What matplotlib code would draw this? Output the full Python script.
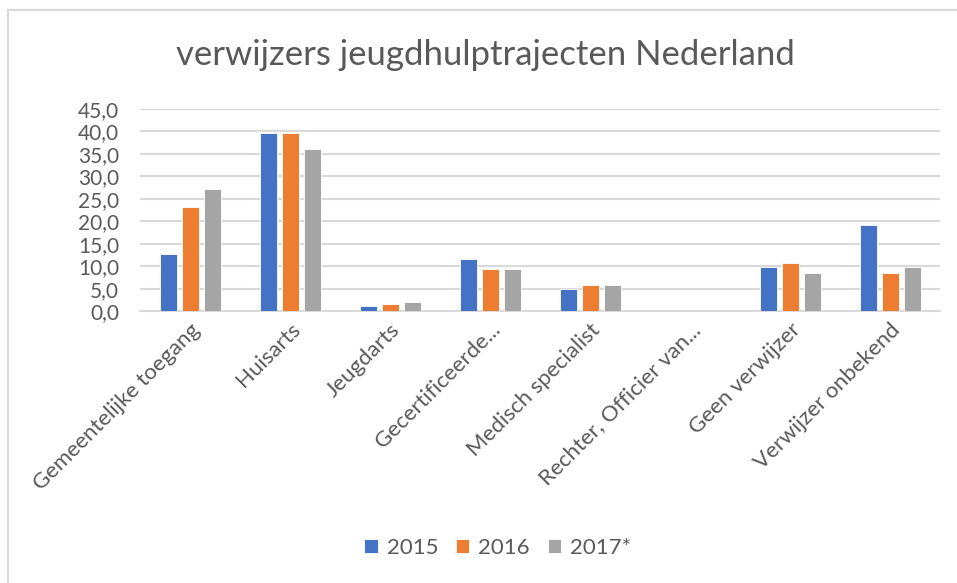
""" verwijzers jeugdhulptrajecten Nederland """

import numpy as np
import matplotlib
matplotlib.use('Agg')
import matplotlib.pyplot as plt
from matplotlib.patches import Rectangle

categories = ['Gemeentelijke toegang', 'Huisarts', 'Jeugdarts', 'Gecertificeerde...',
              'Medisch specialist', 'Rechter, Officier van...', 'Geen verwijzer',
              'Verwijzer onbekend']
years = ['2015', '2016', '2017*']
values_2015 = [12.7, 39.6, 1.1, 11.6, 5.0, 0.0, 9.9, 19.1]
values_2016 = [23.1, 39.6, 1.6, 9.4, 5.9, 0.0, 10.8, 8.5]
values_2017 = [27.3, 36.2, 2.0, 9.4, 5.9, 0.0, 8.5, 9.9]
yticks = [0, 5, 10, 15, 20, 25, 30, 35, 40, 45]

colors = ['#4472c4', '#ed7d31', '#a5a5a5']
text_color = '#595959'

plt.rcParams['font.family'] = ['Lato', 'DejaVu Sans']

fig = plt.figure(figsize=(9.57, 5.83), dpi=100)
# kader van de grafiek
fig.patches.append(Rectangle((8 / 957, -0.1), 1.2, 1 - 10 / 583 + 0.1,
                             transform=fig.transFigure, fill=False,
                             edgecolor='#d9d9d9', linewidth=1.5))

ax = fig.add_axes([140 / 957, 1 - 311.3 / 583, 800 / 957, (311.3 - 109) / 583])

x = np.arange(len(categories))
offset = 0.22
width = 0.17
series = [values_2015, values_2016, values_2017]
for i, vals in enumerate(series):
    ax.bar(x + (i - 1) * offset, vals, width, color=colors[i], label=years[i],
           edgecolor='white', linewidth=0.6, zorder=3)

ax.set_xlim(-0.5, len(categories) - 0.5)
ax.set_ylim(0, 45)
ax.set_yticks(yticks)
ax.set_yticklabels([('%.1f' % v).replace('.', ',') for v in yticks])
ax.grid(axis='y', color='#d9d9d9', linewidth=1.5, zorder=0)
for side in ['top', 'right', 'left']:
    ax.spines[side].set_visible(False)
ax.spines['bottom'].set_color('#d9d9d9')
ax.spines['bottom'].set_linewidth(1.5)
ax.tick_params(axis='both', length=0, colors=text_color)
ax.tick_params(axis='y', pad=15, labelsize=15)
ax.tick_params(axis='x', pad=6, labelsize=16)
ax.set_xticks(x)
ax.set_xticklabels(categories, rotation=45, ha='right', rotation_mode='anchor')

fig.text(0.507, 1 - 55 / 583, 'verwijzers jeugdhulptrajecten Nederland',
         ha='center', va='center', fontsize=25, color=text_color)

fig.legend(loc='center', bbox_to_anchor=(0.52, 1 - 548 / 583), ncol=3, frameon=False,
           fontsize=16, handlelength=0.6, handleheight=0.6, handletextpad=0.4,
           columnspacing=0.8, labelcolor=text_color)

fig.savefig('out.png', dpi=100)
